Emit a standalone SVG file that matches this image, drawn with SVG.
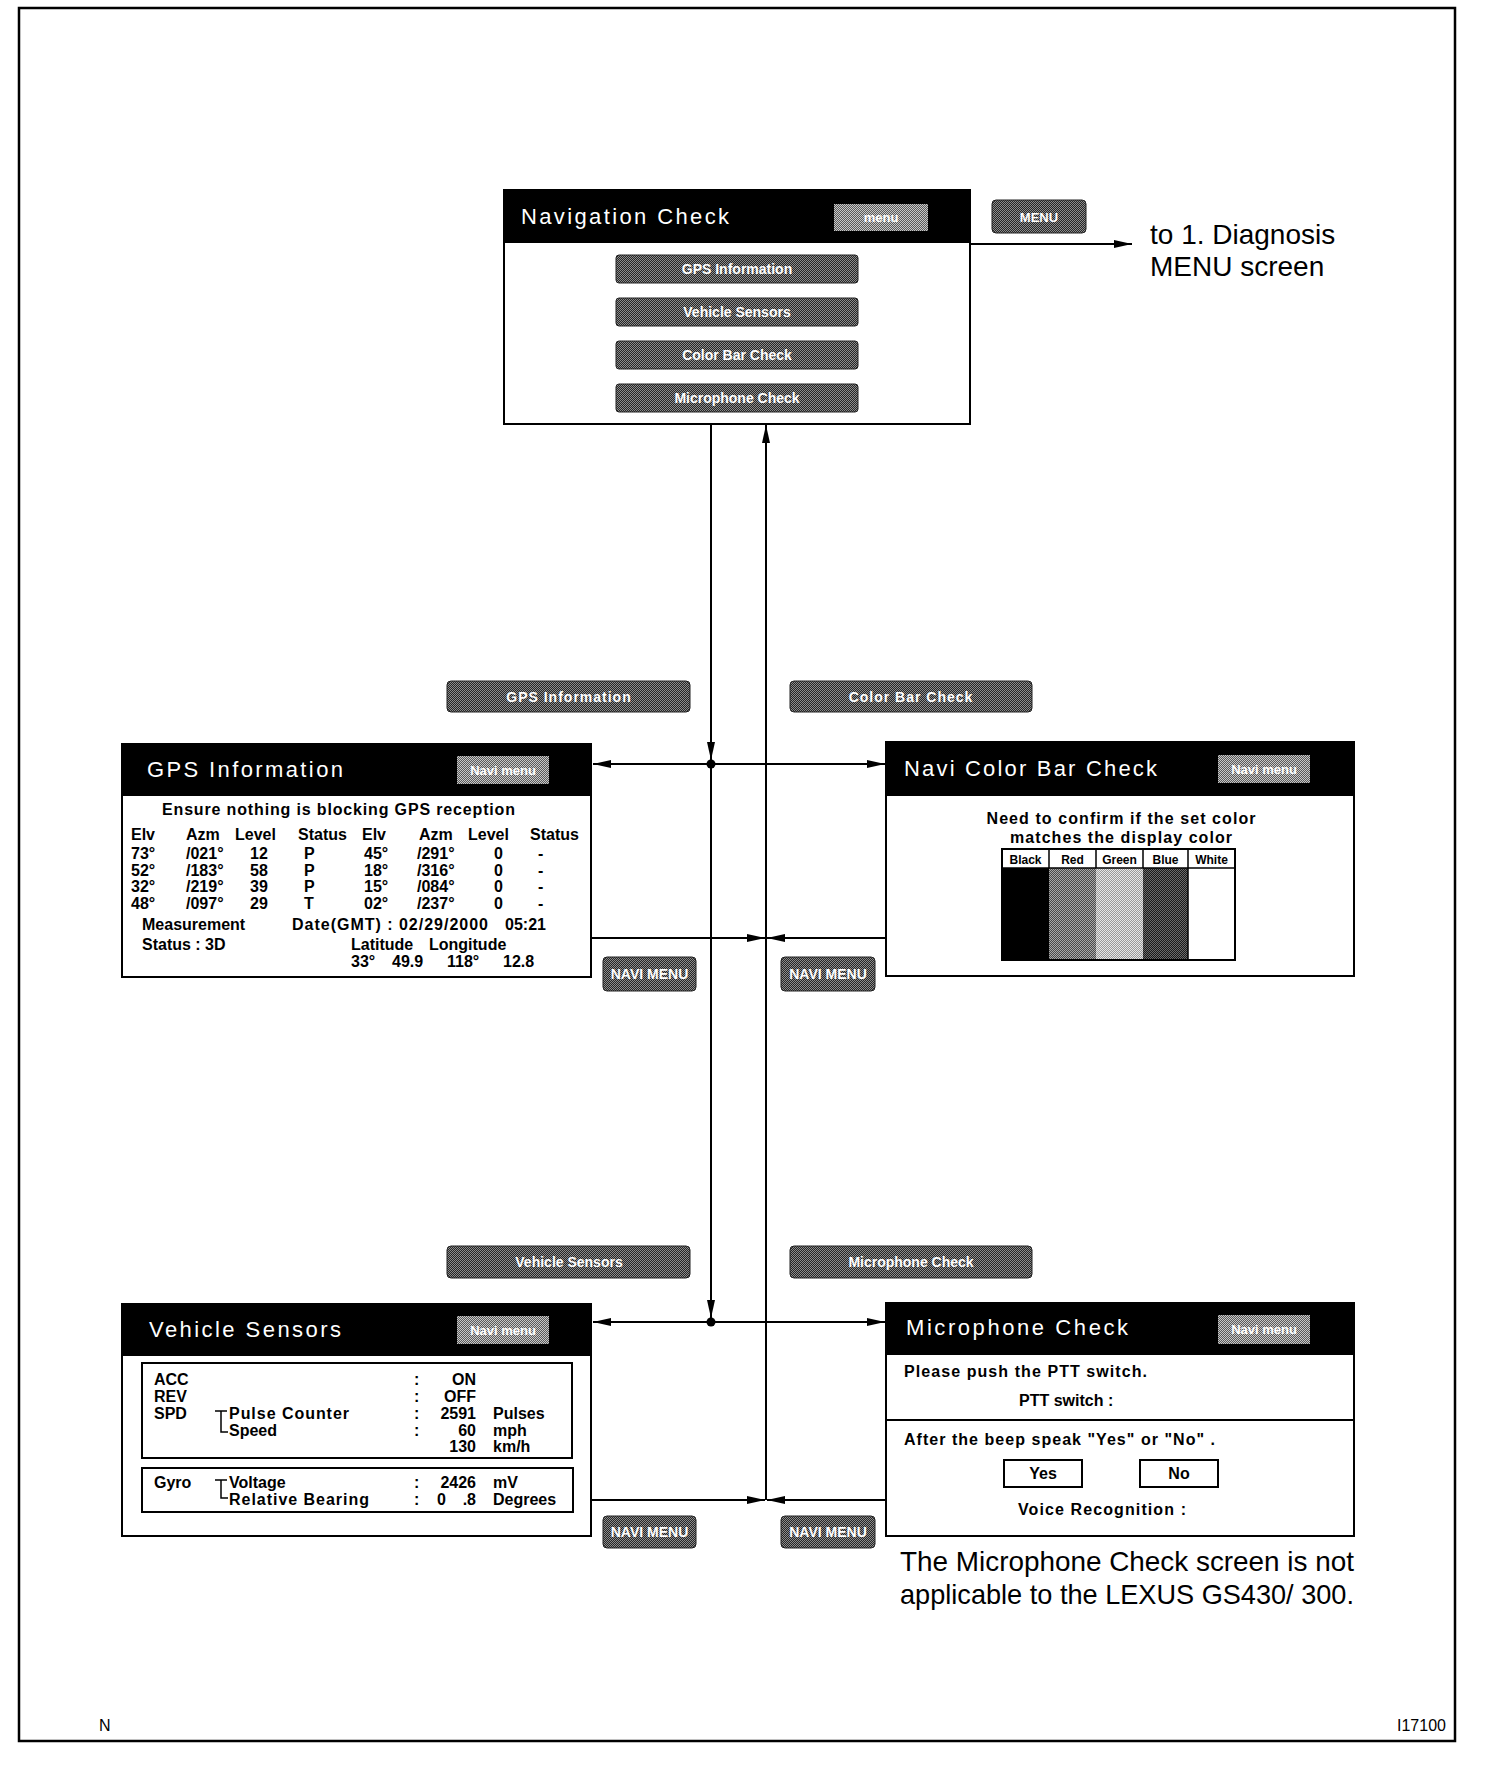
<svg xmlns="http://www.w3.org/2000/svg" width="1504" height="1774" viewBox="0 0 1504 1774">
<defs>
<style>
.frame{fill:none;stroke:#000;stroke-width:2.5}
.box{fill:#fff;stroke:#000;stroke-width:2}
.bar{fill:#000}
.title{font-family:"Liberation Sans",Arial,sans-serif;font-size:22px;fill:#fff}
.btn{fill:url(#dith);stroke:#222;stroke-width:1}
.mbtn{fill:url(#dithL)}
.bt{font-family:"Liberation Sans",Arial,sans-serif;font-weight:bold;font-size:14px;fill:#fff;text-anchor:middle}
.mt{font-family:"Liberation Sans",Arial,sans-serif;font-weight:bold;font-size:13px;fill:#fff;text-anchor:middle}
.d{font-family:"Liberation Sans",Arial,sans-serif;font-weight:bold;font-size:16px;fill:#000}
.e{text-anchor:end}
.c{text-anchor:middle}
.sm{font-family:"Liberation Sans",Arial,sans-serif;font-weight:bold;font-size:12px;fill:#000;text-anchor:middle}
.note{font-family:"Liberation Sans",Arial,sans-serif;font-size:28px;fill:#000}
.ln{stroke:#000;stroke-width:2;fill:none}
.thin{stroke:#000;stroke-width:1.5;fill:none}
.foot{font-family:"Liberation Sans",Arial,sans-serif;font-size:16px;fill:#000}
</style>
<pattern id="dith" width="2" height="2" patternUnits="userSpaceOnUse"><rect width="2" height="2" fill="#262626"/><rect width="1" height="1" fill="#8c8c8c"/><rect x="1" y="1" width="1" height="1" fill="#8c8c8c"/></pattern>
<pattern id="dithL" width="2" height="2" patternUnits="userSpaceOnUse"><rect width="2" height="2" fill="#5a5a5a"/><rect width="1" height="1" fill="#c8c8c8"/><rect x="1" y="1" width="1" height="1" fill="#c8c8c8"/></pattern>
<pattern id="pRed" width="2" height="2" patternUnits="userSpaceOnUse"><rect width="2" height="2" fill="#4a4a4a"/><rect width="1" height="1" fill="#a8a8a8"/><rect x="1" y="1" width="1" height="1" fill="#a8a8a8"/></pattern>
<pattern id="pGreen" width="2" height="2" patternUnits="userSpaceOnUse"><rect width="2" height="2" fill="#9a9a9a"/><rect width="1" height="1" fill="#e8e8e8"/><rect x="1" y="1" width="1" height="1" fill="#e8e8e8"/></pattern>
<pattern id="pBlue" width="2" height="2" patternUnits="userSpaceOnUse"><rect width="2" height="2" fill="#1a1a1a"/><rect width="1" height="1" fill="#6a6a6a"/><rect x="1" y="1" width="1" height="1" fill="#6a6a6a"/></pattern>
<marker id="ah" viewBox="0 0 18 8" markerWidth="18" markerHeight="8" refX="18" refY="4" orient="auto" markerUnits="userSpaceOnUse"><path d="M0,0 L18,4 L0,8 z" fill="#000"/></marker>
</defs>
<rect width="1504" height="1774" fill="#fff"/>
<rect class="frame" x="19" y="8" width="1436" height="1733"/>

<g id="nav-check">
<rect class="box" x="504" y="190" width="466" height="234"/>
<rect class="bar" x="504" y="190" width="466" height="53"/>
<text class="title" x="521" y="224" textLength="208" lengthAdjust="spacing">Navigation Check</text>
<rect class="mbtn" x="834" y="204" width="94" height="27"/>
<text class="mt" x="881" y="222">menu</text>
<rect class="btn" x="616" y="255" width="242" height="28" rx="3"/>
<text class="bt" x="737" y="274">GPS Information</text>
<rect class="btn" x="616" y="298" width="242" height="28" rx="3"/>
<text class="bt" x="737" y="317">Vehicle Sensors</text>
<rect class="btn" x="616" y="341" width="242" height="28" rx="3"/>
<text class="bt" x="737" y="360">Color Bar Check</text>
<rect class="btn" x="616" y="384" width="242" height="28" rx="3"/>
<text class="bt" x="737" y="403">Microphone Check</text>
</g>

<g id="menu-btn">
<rect class="btn" x="992" y="200" width="94" height="33" rx="4"/>
<text class="mt" x="1039" y="222">MENU</text>
</g>

<g id="diag-note">
<text class="note" x="1150" y="244" font-size="27">to 1. Diagnosis</text>
<text class="note" x="1150" y="276" font-size="27">MENU screen</text>
</g>

<g id="lbl-gps"><rect class="btn" x="447" y="681" width="243" height="31" rx="4"/><text class="bt" x="569" y="702" letter-spacing="1">GPS Information</text></g>
<g id="lbl-color"><rect class="btn" x="790" y="681" width="242" height="31" rx="4"/><text class="bt" x="911" y="702" letter-spacing="1">Color Bar Check</text></g>
<g id="lbl-veh"><rect class="btn" x="447" y="1246" width="243" height="32" rx="4"/><text class="bt" x="569" y="1267">Vehicle Sensors</text></g>
<g id="lbl-mic"><rect class="btn" x="790" y="1246" width="242" height="32" rx="4"/><text class="bt" x="911" y="1267">Microphone Check</text></g>

<g id="navimenu-1"><rect class="btn" x="603" y="957" width="93" height="34" rx="4"/><text class="bt" x="649.5" y="979">NAVI MENU</text></g>
<g id="navimenu-2"><rect class="btn" x="781" y="957" width="94" height="34" rx="4"/><text class="bt" x="828" y="979">NAVI MENU</text></g>
<g id="navimenu-3"><rect class="btn" x="603" y="1516" width="93" height="32" rx="4"/><text class="bt" x="649.5" y="1537">NAVI MENU</text></g>
<g id="navimenu-4"><rect class="btn" x="781" y="1516" width="94" height="32" rx="4"/><text class="bt" x="828" y="1537">NAVI MENU</text></g>

<g id="gps-info">
<rect class="box" x="122" y="744" width="469" height="233"/>
<rect class="bar" x="122" y="744" width="469" height="52"/>
<text class="title" x="147" y="777" textLength="196" lengthAdjust="spacing">GPS Information</text>
<rect class="mbtn" x="457" y="756" width="92" height="28"/>
<text class="mt" x="503" y="775">Navi menu</text>
<text class="d" x="162" y="815" textLength="353" lengthAdjust="spacing">Ensure nothing is blocking GPS reception</text>
<text class="d" y="840"><tspan x="131">Elv</tspan><tspan x="186">Azm</tspan><tspan x="235">Level</tspan><tspan x="298">Status</tspan><tspan x="362">Elv</tspan><tspan x="419">Azm</tspan><tspan x="468">Level</tspan><tspan x="530">Status</tspan></text>
<text class="d" y="859"><tspan x="131">73°</tspan><tspan x="186">/021°</tspan><tspan x="250">12</tspan><tspan x="304">P</tspan><tspan x="364">45°</tspan><tspan x="417">/291°</tspan><tspan x="494">0</tspan><tspan x="538">-</tspan></text>
<text class="d" y="875.5"><tspan x="131">52°</tspan><tspan x="186">/183°</tspan><tspan x="250">58</tspan><tspan x="304">P</tspan><tspan x="364">18°</tspan><tspan x="417">/316°</tspan><tspan x="494">0</tspan><tspan x="538">-</tspan></text>
<text class="d" y="892"><tspan x="131">32°</tspan><tspan x="186">/219°</tspan><tspan x="250">39</tspan><tspan x="304">P</tspan><tspan x="364">15°</tspan><tspan x="417">/084°</tspan><tspan x="494">0</tspan><tspan x="538">-</tspan></text>
<text class="d" y="908.5"><tspan x="131">48°</tspan><tspan x="186">/097°</tspan><tspan x="250">29</tspan><tspan x="304">T</tspan><tspan x="364">02°</tspan><tspan x="417">/237°</tspan><tspan x="494">0</tspan><tspan x="538">-</tspan></text>
<text class="d" x="142" y="930">Measurement</text>
<text class="d" x="292" y="930" textLength="196" lengthAdjust="spacing">Date(GMT) : 02/29/2000</text>
<text class="d" x="505" y="930">05:21</text>
<text class="d" x="142" y="950">Status : 3D</text>
<text class="d" y="950"><tspan x="351">Latitude</tspan><tspan x="429">Longitude</tspan></text>
<text class="d" y="967"><tspan x="351">33°</tspan><tspan x="392">49.9</tspan><tspan x="447">118°</tspan><tspan x="503">12.8</tspan></text>
</g>

<g id="color-bar">
<rect class="box" x="886" y="742" width="468" height="234"/>
<rect class="bar" x="886" y="742" width="468" height="54"/>
<text class="title" x="904" y="776" textLength="253" lengthAdjust="spacing">Navi Color Bar Check</text>
<rect class="mbtn" x="1218" y="755" width="92" height="28"/>
<text class="mt" x="1264" y="774">Navi menu</text>
<text class="d c" x="1121" y="824" textLength="269" lengthAdjust="spacing">Need to confirm if the set color</text>
<text class="d c" x="1121" y="843" textLength="222" lengthAdjust="spacing">matches the display color</text>
<rect x="1002" y="868" width="47" height="92" fill="#000"/>
<rect x="1049" y="868" width="47" height="92" fill="url(#pRed)"/>
<rect x="1096" y="868" width="47" height="92" fill="url(#pGreen)"/>
<rect x="1143" y="868" width="45" height="92" fill="url(#pBlue)"/>
<rect x="1002" y="849" width="233" height="111" fill="none" stroke="#000" stroke-width="2"/>
<path class="thin" d="M1002,868 H1235 M1049,849 V868 M1096,849 V868 M1143,849 V868 M1188,849 V960"/>
<text class="sm" y="864"><tspan x="1025.5">Black</tspan><tspan x="1072.5">Red</tspan><tspan x="1119.5">Green</tspan><tspan x="1165.5">Blue</tspan><tspan x="1211.5">White</tspan></text>
</g>

<g id="vehicle-sensors">
<rect class="box" x="122" y="1304" width="469" height="232"/>
<rect class="bar" x="122" y="1304" width="469" height="52"/>
<text class="title" x="149" y="1337" textLength="192" lengthAdjust="spacing">Vehicle Sensors</text>
<rect class="mbtn" x="457" y="1316" width="92" height="28"/>
<text class="mt" x="503" y="1335">Navi menu</text>
<rect x="142" y="1363" width="430" height="95" fill="none" stroke="#000" stroke-width="2"/>
<rect x="142" y="1468" width="431" height="44" fill="none" stroke="#000" stroke-width="2"/>
<text class="d" x="154" y="1385">ACC</text>
<text class="d" x="154" y="1402">REV</text>
<text class="d" x="154" y="1419">SPD</text>
<path class="thin" d="M215,1411 H227 M221,1411 V1432 H228"/>
<text class="d" x="229" y="1419" textLength="120" lengthAdjust="spacing">Pulse Counter</text>
<text class="d" x="229" y="1436">Speed</text>
<text class="d" y="1385"><tspan x="414">:</tspan></text>
<text class="d" y="1402"><tspan x="414">:</tspan></text>
<text class="d" y="1419"><tspan x="414">:</tspan></text>
<text class="d" y="1436"><tspan x="414">:</tspan></text>
<text class="d e" x="476" y="1385">ON</text>
<text class="d e" x="476" y="1402">OFF</text>
<text class="d e" x="476" y="1419">2591</text>
<text class="d e" x="476" y="1436">60</text>
<text class="d e" x="476" y="1452">130</text>
<text class="d" x="493" y="1419">Pulses</text>
<text class="d" x="493" y="1436">mph</text>
<text class="d" x="493" y="1452">km/h</text>
<text class="d" x="154" y="1488">Gyro</text>
<path class="thin" d="M215,1480 H227 M221,1480 V1498 H228"/>
<text class="d" x="229" y="1488">Voltage</text>
<text class="d" x="229" y="1505" textLength="140" lengthAdjust="spacing">Relative Bearing</text>
<text class="d" y="1488"><tspan x="414">:</tspan></text>
<text class="d" y="1505"><tspan x="414">:</tspan></text>
<text class="d e" x="476" y="1488">2426</text>
<text class="d" x="437" y="1505">0</text>
<text class="d e" x="476" y="1505">.8</text>
<text class="d" x="493" y="1488">mV</text>
<text class="d" x="493" y="1505">Degrees</text>
</g>

<g id="mic-check">
<rect class="box" x="886" y="1303" width="468" height="233"/>
<rect class="bar" x="886" y="1303" width="468" height="52"/>
<text class="title" x="906" y="1335" textLength="222" lengthAdjust="spacing">Microphone Check</text>
<rect class="mbtn" x="1218" y="1315" width="92" height="29"/>
<text class="mt" x="1264" y="1334">Navi menu</text>
<text class="d" x="904" y="1377" textLength="243" lengthAdjust="spacing">Please push the PTT switch.</text>
<text class="d" x="1019" y="1406">PTT switch  :</text>
<line class="ln" x1="886" y1="1420" x2="1354" y2="1420"/>
<text class="d" x="904" y="1445" textLength="311" lengthAdjust="spacing">After the beep speak "Yes" or "No" .</text>
<rect x="1004" y="1460" width="78" height="27" fill="#fff" stroke="#000" stroke-width="2"/>
<text class="d c" x="1043" y="1479">Yes</text>
<rect x="1140" y="1460" width="78" height="27" fill="#fff" stroke="#000" stroke-width="2"/>
<text class="d c" x="1179" y="1479">No</text>
<text class="d" x="1018" y="1515" textLength="168" lengthAdjust="spacing">Voice Recognition :</text>
</g>

<g id="mic-note">
<text class="note" x="900" y="1571" textLength="454" lengthAdjust="spacingAndGlyphs">The Microphone Check screen is not</text>
<text class="note" x="900" y="1604" textLength="454" lengthAdjust="spacingAndGlyphs">applicable to the LEXUS GS430/ 300.</text>
</g>

<g id="footer">
<text class="foot" x="99" y="1731">N</text>
<text class="foot" x="1397" y="1731">I17100</text>
</g>

<g id="connectors">
<path class="ln" d="M970,244 H1132" marker-end="url(#ah)"/>
<path class="ln" d="M711,424 V760" marker-end="url(#ah)"/>
<path class="ln" d="M711,764 V1318" marker-end="url(#ah)"/>
<path class="ln" d="M711,764 H593" marker-end="url(#ah)"/>
<path class="ln" d="M711,764 H885" marker-end="url(#ah)"/>
<path class="ln" d="M711,1322 H593" marker-end="url(#ah)"/>
<path class="ln" d="M711,1322 H885" marker-end="url(#ah)"/>
<circle cx="711" cy="764" r="4.5" fill="#000"/>
<circle cx="711" cy="1322" r="4.5" fill="#000"/>
<path class="ln" d="M766,1500 V425" marker-end="url(#ah)"/>
<path class="ln" d="M592,938 H765" marker-end="url(#ah)"/>
<path class="ln" d="M886,938 H767" marker-end="url(#ah)"/>
<path class="ln" d="M592,1500 H765" marker-end="url(#ah)"/>
<path class="ln" d="M886,1500 H767" marker-end="url(#ah)"/>
</g>
</svg>
